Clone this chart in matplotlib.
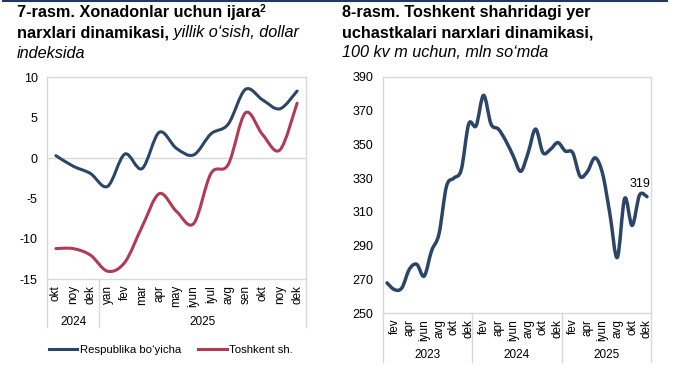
import numpy as np
import matplotlib
matplotlib.use("Agg")
import matplotlib.pyplot as plt
from matplotlib.path import Path
from matplotlib.patches import PathPatch
from matplotlib.lines import Line2D

plt.rcParams['font.family'] = ['Liberation Sans', 'DejaVu Sans']
plt.rcParams['axes.unicode_minus'] = False

# chart 7: rent price dynamics (yoy growth, dollar index)
months7 = ['okt', 'noy', 'dek', 'yan', 'fev', 'mar', 'apr', 'may', 'iyun',
           'iyul', 'avg', 'sen', 'okt', 'noy', 'dek']
years7 = ['2024', '2025']
year_sizes7 = [3, 12]
respublika = [0.3, -1.0, -1.9, -3.5, 0.5, -1.3, 3.2, 1.2, 0.4, 3.0, 4.2, 8.5, 7.2, 6.1, 8.3]
toshkent = [-11.2, -11.2, -12.0, -14.0, -12.9, -8.5, -4.4, -6.6, -8.1, -1.9, -0.8, 5.6, 2.9, 1.0, 6.8]

# chart 8: land plot prices in Tashkent, mln so'm per 100 sq m
month_names = ['yan', 'fev', 'mar', 'apr', 'may', 'iyun', 'iyul', 'avg', 'sen', 'okt', 'noy', 'dek']
years8 = ['2023', '2024', '2025']
land_price = [268, 264, 265, 276, 279, 272, 287, 297, 325, 330, 335, 362,
              361, 379, 362, 359, 352, 343, 334, 345, 359, 345, 347, 351,
              346, 345, 331, 334, 342, 333, 309, 283, 318, 302, 320, 319]

BLUE = '#2b4569'
RED = '#b23a56'
GRID = '#d9d9d9'
TS = 11.7   # title size


def smooth_path(x, y):
    # excel-like smoothed line as cubic bezier segments
    verts = [(x[0], y[0])]
    codes = [Path.MOVETO]
    n = len(x)
    for i in range(n - 1):
        xa, ya = (x[i - 1], y[i - 1]) if i > 0 else (x[i], y[i])
        xb, yb = (x[i + 2], y[i + 2]) if i + 2 < n else (x[i + 1], y[i + 1])
        c1 = (x[i] + (x[i + 1] - xa) / 6, y[i] + (y[i + 1] - ya) / 6)
        c2 = (x[i + 1] - (xb - x[i]) / 6, y[i + 1] - (yb - y[i]) / 6)
        verts += [c1, c2, (x[i + 1], y[i + 1])]
        codes += [Path.CURVE4] * 3
    return Path(verts, codes)


def add_line(ax, y, color, lw):
    x = np.arange(len(y))
    ax.add_patch(PathPatch(smooth_path(x, y), fill=False, edgecolor=color,
                           lw=lw, capstyle='round', joinstyle='round'))


def style_axes(ax):
    for s in ax.spines.values():
        s.set_color(GRID)
        s.set_linewidth(1)
    ax.tick_params(length=0)
    ax.tick_params(axis='x', pad=4, labelsize=8.5)
    ax.tick_params(axis='y', pad=7, labelsize=9)


def year_row(ax, years, sizes, text_y, line_y):
    tr = ax.get_xaxis_transform()
    start = -0.5
    bounds = [start]
    for yr, sz in zip(years, sizes):
        ax.text(start + sz / 2, text_y, yr, transform=tr, ha='center',
                va='center', fontsize=8.5)
        start += sz
        bounds.append(start)
    for b in bounds:
        ax.add_line(Line2D([b, b], [0, line_y], transform=tr, color=GRID,
                           lw=1, clip_on=False))


def fy(p):
    return 1 - p / 371


fig = plt.figure(figsize=(6.8, 3.71), dpi=100)

# --- left chart ---
ax1 = fig.add_axes([47.3 / 680, fy(279.3), 258.4 / 680, 202 / 371])
add_line(ax1, respublika, BLUE, 2.2)
add_line(ax1, toshkent, RED, 2.2)
ax1.axhline(0, color=GRID, lw=1, zorder=0)
ax1.set_xlim(-0.5, len(months7) - 0.5)
ax1.set_ylim(-15, 10)
ax1.set_yticks(np.arange(-15, 11, 5))
ax1.set_xticks(np.arange(len(months7)))
ax1.set_xticklabels(months7, rotation=90)
style_axes(ax1)
year_row(ax1, years7, year_sizes7, -0.21, -0.235)

# --- right chart ---
ax2 = fig.add_axes([383.3 / 680, fy(313.3), 267.4 / 680, 236.6 / 371])
add_line(ax2, land_price, BLUE, 2.5)
ax2.set_xlim(-0.5, len(land_price) - 0.5)
ax2.set_ylim(250, 390)
ax2.set_yticks(np.arange(250, 391, 20))
ticks8 = np.arange(1, len(land_price), 2)
ax2.set_xticks(ticks8)
ax2.set_xticklabels([month_names[i % 12] for i in ticks8], rotation=90)
style_axes(ax2)
year_row(ax2, years8, [12, 12, 12], -0.176, -0.205)
ax2.annotate(str(land_price[-1]), xy=(len(land_price) - 1, land_price[-1]),
             xytext=(-5, 5), textcoords='offset points', ha='center',
             va='bottom', fontsize=9)

# --- legend ---
handles = [Line2D([], [], color=BLUE, lw=2.2), Line2D([], [], color=RED, lw=2.2)]
fig.legend(handles, ['Respublika bo‘yicha', 'Toshkent sh.'], loc='center left',
           bbox_to_anchor=(49 / 680, fy(350)), ncol=2, frameon=False,
           fontsize=8.2, handlelength=2.5, handletextpad=0.2,
           columnspacing=1.5, borderpad=0, borderaxespad=0)

# --- titles ---
t1 = fig.text(16.7 / 680, fy(17.3), '7-rasm. Xonadonlar uchun ijara',
              fontsize=TS, fontweight='bold', ha='left', va='baseline')
ax1.annotate('2', xy=(1, 1), xycoords=t1, xytext=(0, 1), textcoords='offset points',
             ha='left', va='top', fontsize=7.5, fontweight='bold',
             annotation_clip=False)
t2 = fig.text(16.7 / 680, fy(37.3), 'narxlari dinamikasi,', fontsize=TS,
              fontweight='bold', ha='left', va='baseline')
ax1.annotate(' yillik o‘sish, dollar', xy=(1, 0), xycoords=t2, ha='left',
             va='bottom', fontsize=TS, fontstyle='italic', annotation_clip=False)
fig.text(16.7 / 680, fy(58.3), 'indeksida', fontsize=TS, fontstyle='italic',
         ha='left', va='baseline')

fig.text(341.7 / 680, fy(17.3), '8-rasm. Toshkent shahridagi yer',
         fontsize=TS, fontweight='bold', ha='left', va='baseline')
fig.text(341.7 / 680, fy(37.3), 'uchastkalari narxlari dinamikasi,',
         fontsize=TS, fontweight='bold', ha='left', va='baseline')
fig.text(341.7 / 680, fy(57.3), '100 kv m uchun, mln so‘mda',
         fontsize=TS, fontstyle='italic', ha='left', va='baseline')

# thin rule on top
fig.add_artist(Line2D([3 / 680, 667 / 680], [fy(0.8), fy(0.8)],
                      color='#1f3864', lw=1.5))

fig.savefig('out.png', dpi=100)
